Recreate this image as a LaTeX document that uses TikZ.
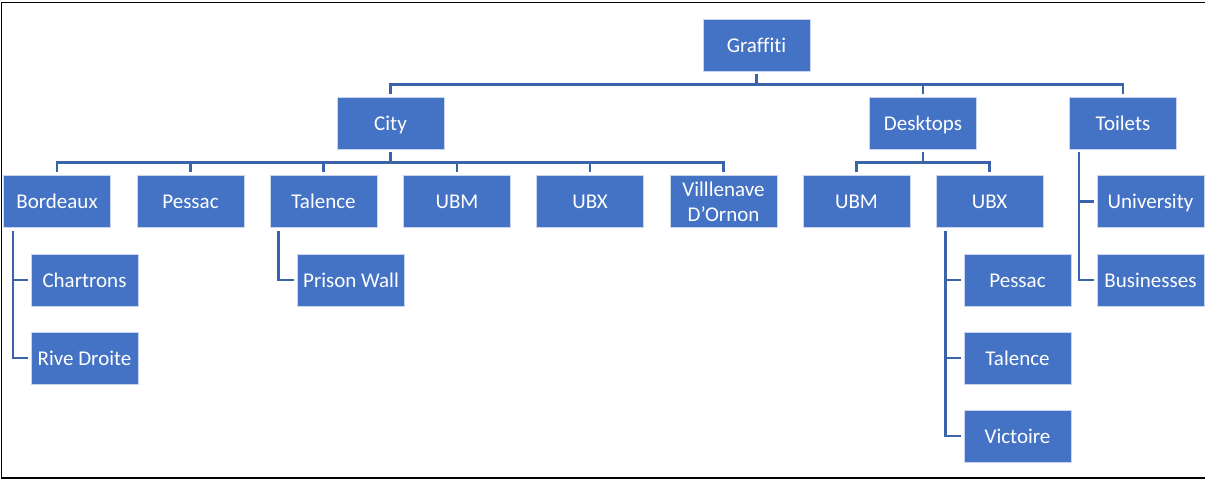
\documentclass[tikz,border=0pt]{standalone}
\usepackage{fontspec}
\setmainfont[Ligatures=NoCommon]{Carlito}
\usetikzlibrary{calc}
\definecolor{boxblue}{HTML}{4472C4}
\definecolor{lineblue}{HTML}{3B63AA}
\definecolor{boxedge}{HTML}{C9D6EE}
\tikzset{
  box/.style={rectangle, fill=boxblue, draw=boxedge, line width=0.8pt,
    minimum width=107pt, minimum height=52pt, inner sep=0pt,
    text=white, align=center, font=\fontsize{21}{25}\selectfont},
  onel/.style={box, text height=16.5pt, text depth=2.5pt},
  conn/.style={draw=lineblue, line width=2.6pt, shorten <=3pt, shorten >=3pt}
}
\begin{document}
\begin{tikzpicture}[x=1pt,y=1pt]
\useasboundingbox (0,0) rectangle (1205,-479);
\draw[line width=1.6pt, black] (1205,-2.5) -- (1.5,-2.5) -- (1.5,-478) -- (1205,-478);

\node[onel] (graffiti) at (756.5,-45) {Graffiti};
\node[onel] (city) at (390.5,-123) {City};
\node[onel] (desktops) at (923,-123) {Desktops};
\node[onel] (toilets) at (1123,-123) {Toilets};

\node[onel] (bordeaux) at (57,-201.5) {Bordeaux};
\node[onel] (pessac) at (190.5,-201.5) {Pessac};
\node[onel] (talence) at (323.5,-201.5) {Talence};
\node[onel] (ubm) at (457,-201.5) {UBM};
\node[onel] (ubx) at (590,-201.5) {UBX};
\node[box] (villenave) at (723.5,-201.5) {Villlenave\\D’Ornon};
\node[onel] (dubm) at (856.5,-201.5) {UBM};
\node[onel] (dubx) at (989.5,-201.5) {UBX};
\node[onel] (university) at (1150.5,-201.5) {University};

\node[onel] (chartrons) at (84.5,-280) {Chartrons};
\node[onel] (rive) at (84.5,-358) {Rive Droite};
\node[onel] (prison) at (351,-280) {Prison Wall};
\node[onel] (dpessac) at (1017.5,-280) {Pessac};
\node[onel] (dtalence) at (1017.5,-358) {Talence};
\node[onel] (victoire) at (1017.5,-436) {Victoire};
\node[onel] (businesses) at (1150.5,-280) {Businesses};

% level 1
\foreach \c in {city,desktops,toilets}
  \draw[conn] (graffiti.south) -- ++(0,-13) -| (\c.north);
% City children
\foreach \c in {bordeaux,pessac,talence,ubm,ubx,villenave}
  \draw[conn] (city.south) -- ++(0,-13) -| (\c.north);
% Desktops children
\foreach \c in {dubm,dubx}
  \draw[conn] (desktops.south) -- ++(0,-13) -| (\c.north);
% side branches
\foreach \c in {chartrons,rive}
  \draw[conn] ([xshift=10pt]bordeaux.south west) |- (\c.west);
\draw[conn] ([xshift=9pt]talence.south west) |- (prison.west);
\foreach \c in {dpessac,dtalence,victoire}
  \draw[conn] ([xshift=10pt]dubx.south west) |- (\c.west);
\foreach \c in {university,businesses}
  \draw[conn] ([xshift=10pt]toilets.south west) |- (\c.west);
\end{tikzpicture}
\end{document}
